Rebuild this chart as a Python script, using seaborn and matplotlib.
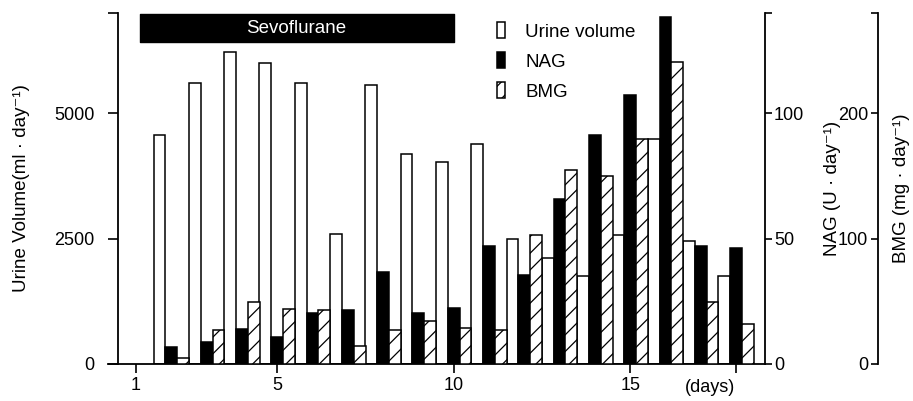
import numpy as np
import pandas as pd
import matplotlib
matplotlib.use("Agg")
import matplotlib.pyplot as plt
import matplotlib.transforms as mtransforms
from matplotlib.patches import Patch
import seaborn as sns

# values
days = np.arange(2, 19)
urine = [4560, 5600, 6230, 6000, 5600, 2600, 5570, 4190, 4030, 4390,
         2500, 2110, 1760, 2570, 4490, 2450, 1760]          # ml/day
nag = [6.9, 8.7, 13.9, 10.7, 20.4, 21.6, 36.5, 20.3, 22.3, 46.9,
       35.5, 65.9, 91.2, 107.2, 138.5, 46.9, 46.4]          # U/day
bmg = [4.5, 27.0, 49.4, 44.2, 43.0, 14.6, 27.2, 33.9, 28.5, 27.2,
       102.7, 155.0, 149.8, 179.7, 241.0, 49.8, 32.0]       # mg/day
sevo_start, sevo_end = 1.1, 10.0

df = pd.DataFrame({"day": days, "urine": urine, "nag": nag, "bmg": bmg})

sns.set_style("ticks")
plt.rcParams["font.family"] = ["Liberation Sans", "DejaVu Sans"]
plt.rcParams["hatch.linewidth"] = 0.9
for k in ["text.color", "axes.labelcolor", "xtick.color", "ytick.color", "axes.edgecolor"]:
    plt.rcParams[k] = "black"

fig = plt.figure(figsize=(9.13, 4.01), dpi=100)
ax = fig.add_axes([0.1183, 0.0923, 0.7196, 0.8753])
ax2 = ax.twinx()
ax3 = ax.twinx()

shift = 0.335
bw = 0.335
lw = 1.1
sns.barplot(x=df["day"] - shift, y=df["urine"], native_scale=True, width=bw,
            color="white", edgecolor="black", linewidth=lw, saturation=1,
            errorbar=None, ax=ax)
sns.barplot(x=df["day"].astype(float), y=df["nag"], native_scale=True, width=bw,
            color="black", edgecolor="black", linewidth=lw, saturation=1,
            errorbar=None, ax=ax2)
sns.barplot(x=df["day"] + shift, y=df["bmg"], native_scale=True, width=bw,
            color="white", edgecolor="black", linewidth=lw, saturation=1,
            hatch="//", errorbar=None, ax=ax3)

# left axis
ax.set_xlim(0.207, 18.82)
ax.set_ylim(0, 7000)
ax.set_yticks([0, 2500, 5000, 7000], ["0", "2500", "5000", ""])
ax.set_xticks([1, 5, 10, 15, 18], ["1", "5", "10", "15", ""])
ax.spines["left"].set_position(("data", 0.49))
ax.spines["top"].set_visible(False)
ax.spines["right"].set_visible(False)
ax.tick_params(axis="y", length=7, width=1.2, pad=10, labelsize=13)
ax.tick_params(axis="x", length=6.5, width=1.2, pad=3, labelsize=13)
ax.set_xlabel("")
ax.set_ylabel("Urine Volume(ml · day⁻¹)", fontsize=13.5)
ax.yaxis.set_label_coords(-0.1324, 0.5)
ax.yaxis.label.set_va("center")

# NAG axis
ax2.set_ylim(0, 140)
ax2.set_yticks([0, 50, 100, 140], ["0", "50", "100", ""])
for s in ["left", "top", "bottom"]:
    ax2.spines[s].set_visible(False)
ax2.tick_params(axis="y", length=5, width=1.2, pad=1.5, labelsize=13)
ax2.set_ylabel("NAG (U · day⁻¹)", fontsize=13.5)
ax2.yaxis.set_label_coords(1.102, 0.5)
ax2.yaxis.label.set_va("center")

# BMG axis
ax3.set_ylim(0, 280)
ax3.set_yticks([0, 100, 200, 280], ["0", "100", "200", ""])
for s in ["right", "top", "bottom"]:
    ax3.spines[s].set_visible(False)
ax3.spines["left"].set_visible(True)
ax3.spines["left"].set_position(("axes", 1.172))
ax3.yaxis.set_ticks_position("left")
ax3.yaxis.set_label_position("right")
ax3.tick_params(axis="y", length=5, width=1.2, pad=2, labelsize=13)
ax3.set_ylabel("BMG (mg · day⁻¹)", fontsize=13.5)
ax3.yaxis.set_label_coords(1.2085, 0.5)
ax3.yaxis.label.set_va("center")

for a in (ax, ax2, ax3):
    for s in a.spines.values():
        s.set_linewidth(1.3)
        s.set_color("black")

# sevoflurane period bar
ax.broken_barh([(sevo_start, sevo_end - sevo_start)], (6420, 560), color="black")
ax.text((sevo_start + sevo_end) / 2, 6700, "Sevoflurane", color="white",
        ha="center", va="center", fontsize=13.5)

# days label
trans = mtransforms.blended_transform_factory(ax.transData, ax.transAxes)
ax.text(17.26, -0.068, "(days)", transform=trans, ha="center", va="center",
        fontsize=13)

handles = [Patch(facecolor="white", edgecolor="black", linewidth=lw),
           Patch(facecolor="black", edgecolor="black", linewidth=lw),
           Patch(facecolor="white", edgecolor="black", linewidth=lw, hatch="//")]
ax3.legend(handles, ["Urine volume", "NAG", "BMG"], loc="upper left",
           bbox_to_anchor=(0.592, 0.974), frameon=False, fontsize=13.5,
           handlelength=0.43, handleheight=0.95, handletextpad=1.07,
           labelspacing=0.61, borderpad=0, borderaxespad=0)

fig.savefig("out.png", dpi=100)
